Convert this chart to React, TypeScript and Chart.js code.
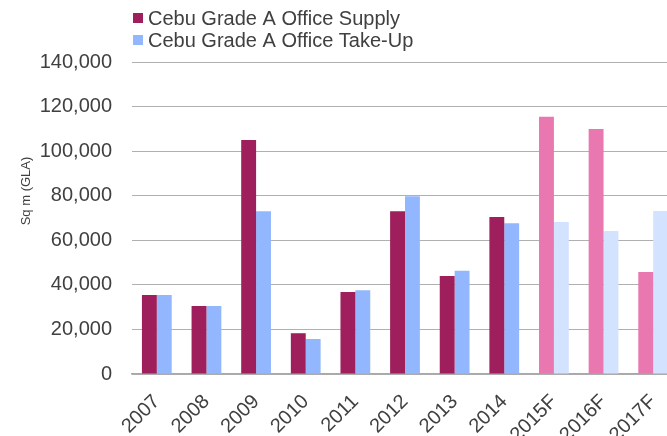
import React, { useEffect, useRef } from "react";
import { Chart, registerables } from "chart.js";

Chart.register(...registerables);

const categories = ["2007", "2008", "2009", "2010", "2011", "2012", "2013", "2014", "2015F", "2016F", "2017F"];
const supply = [35500, 30500, 105000, 18300, 36800, 73000, 44000, 70400, 115400, 109900, 45800];
const takeUp = [35500, 30500, 73000, 15700, 37600, 79800, 46300, 67700, 68200, 64200, 73100];
const isForecast = [false, false, false, false, false, false, false, false, true, true, true];
const seriesNames = ["Cebu Grade A Office Supply", "Cebu Grade A Office Take-Up"];
const yTitle = "Sq m (GLA)";

const SUPPLY = "#9E1F5C";
const SUPPLY_F = "#E878AF";
const TAKE = "#93B7FE";
const TAKE_F = "#D3E2FF";
const TEXT = "#404040";
const FONT = "'Liberation Sans', Arial, sans-serif";

const CW = 700;
const CH = 480;

const overlay = {
  id: "overlay",
  afterDraw(chart: any) {
    const ctx = chart.ctx;
    ctx.save();
    // legend
    chart.data.datasets.forEach((ds: any, i: number) => {
      const y = 18 + i * 22;
      const col = Array.isArray(ds.backgroundColor) ? ds.backgroundColor[0] : ds.backgroundColor;
      ctx.fillStyle = col;
      ctx.fillRect(133, y - 5, 10, 10);
      ctx.fillStyle = TEXT;
      ctx.font = `20px ${FONT}`;
      ctx.textBaseline = "middle";
      ctx.textAlign = "left";
      ctx.fillText(ds.label, 148, y + 1);
    });
    // y title
    ctx.translate(26, 191);
    ctx.rotate(-Math.PI / 2);
    ctx.font = `13px ${FONT}`;
    ctx.textAlign = "center";
    ctx.textBaseline = "middle";
    ctx.fillStyle = TEXT;
    ctx.fillText(yTitle, 0, 0);
    ctx.restore();
  },
};

export default function App() {
  const ref = useRef<HTMLCanvasElement | null>(null);
  useEffect(() => {
    if (!ref.current) return;
    const chart = new Chart(ref.current, {
      type: "bar",
      data: {
        labels: categories,
        datasets: [
          {
            label: seriesNames[0],
            data: supply,
            backgroundColor: isForecast.map((f) => (f ? SUPPLY_F : SUPPLY)),
            categoryPercentage: 0.6,
            barPercentage: 1.0,
          },
          {
            label: seriesNames[1],
            data: takeUp,
            backgroundColor: isForecast.map((f) => (f ? TAKE_F : TAKE)),
            categoryPercentage: 0.6,
            barPercentage: 1.0,
          },
        ],
      },
      options: {
        responsive: false,
        animation: false,
        devicePixelRatio: 1,
        layout: { padding: { top: 62, left: 0, right: CW - 678, bottom: 0 } },
        plugins: { legend: { display: false }, tooltip: { enabled: false } },
        scales: {
          x: {
            grid: { display: false, drawTicks: false },
            border: { display: true, color: "#A8A8A8", width: 1.5 },
            ticks: {
              color: TEXT,
              font: { family: FONT, size: 20 },
              maxRotation: 45,
              minRotation: 45,
              padding: 16,
              autoSkip: false,
            },
            afterFit(scale: any) {
              scale.height = CH - 374;
            },
          },
          y: {
            min: 0,
            max: 140000,
            grid: { color: "#B0B0B0", lineWidth: 1, drawTicks: false },
            border: { display: false },
            ticks: {
              stepSize: 20000,
              color: TEXT,
              font: { family: FONT, size: 20 },
              padding: 20,
              callback: (v: any) => Number(v).toLocaleString("en-US"),
            },
            afterFit(scale: any) {
              scale.width = 132;
            },
          },
        },
      },
      plugins: [overlay],
    });
    return () => chart.destroy();
  }, []);
  return (
    <div style={{ position: "fixed", left: 0, top: 0, width: 667, height: 436, overflow: "hidden", background: "#fff" }}>
      <canvas ref={ref} width={CW} height={CH} style={{ width: CW, height: CH, display: "block" }} />
    </div>
  );
}
